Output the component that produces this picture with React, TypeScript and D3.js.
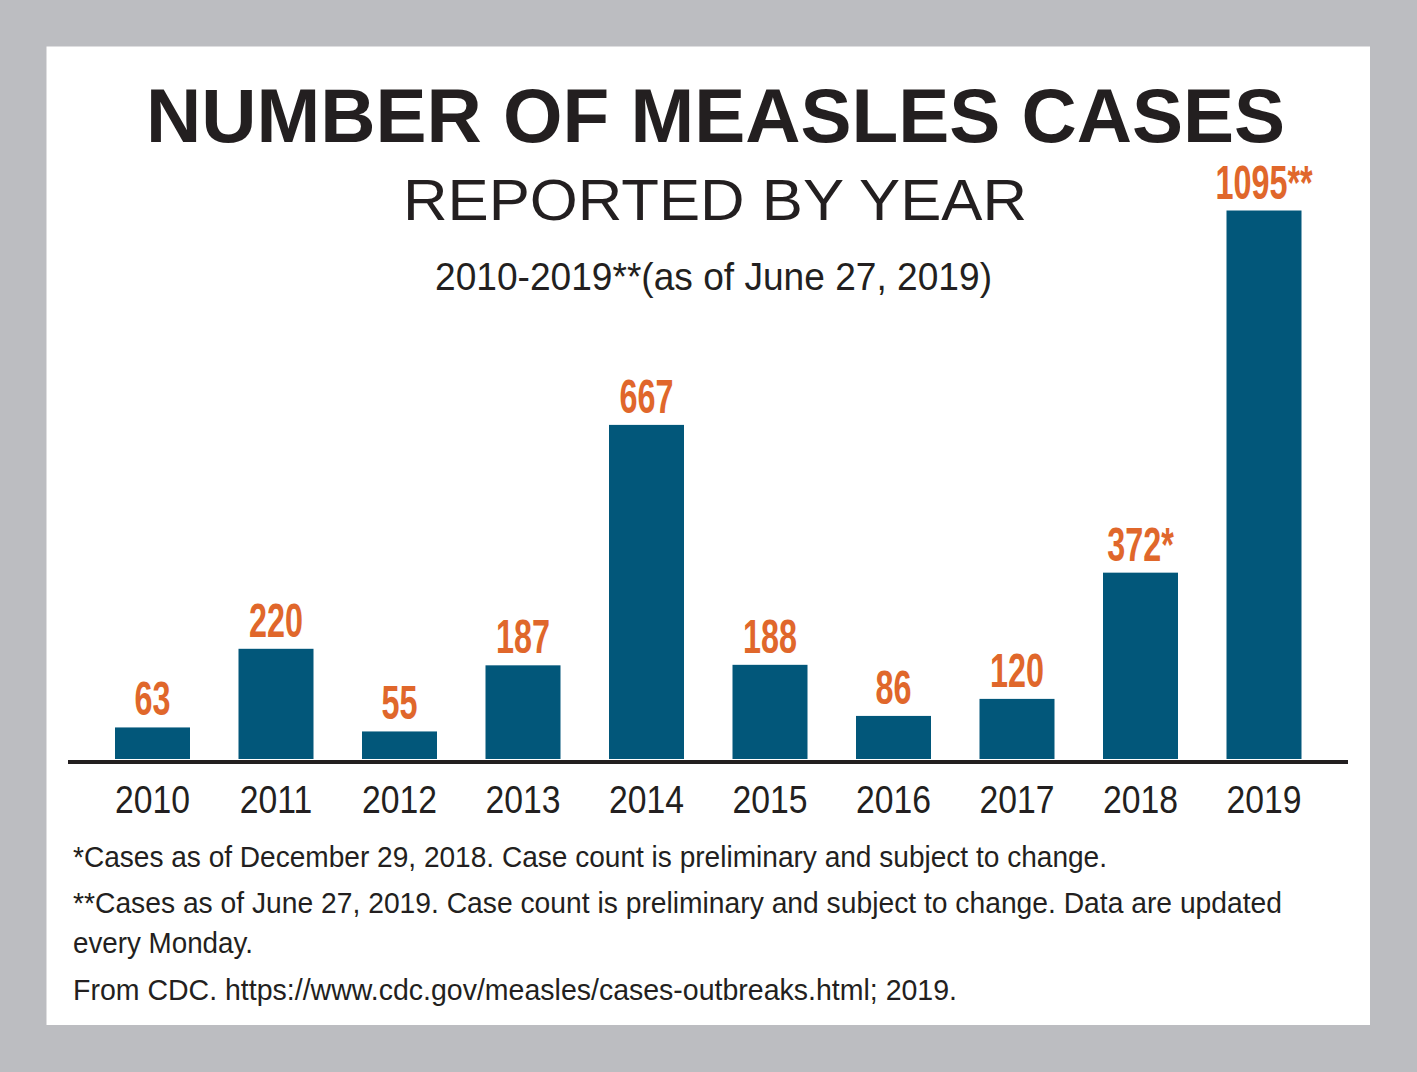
import React from "react";
import * as d3 from "d3";

const years = ["2010", "2011", "2012", "2013", "2014", "2015", "2016", "2017", "2018", "2019"];
const cases = [63, 220, 55, 187, 667, 188, 86, 120, 372, 1095];
const labelSuffix = ["", "", "", "", "", "", "", "", "*", "**"];

const titleText = "NUMBER OF MEASLES CASES";
const subtitleText = "REPORTED BY YEAR";
const rangeText = "2010-2019**(as of June 27, 2019)";
const footnotes = [
  "*Cases as of December 29, 2018. Case count is preliminary and subject to change.",
  "**Cases as of June 27, 2019. Case count is preliminary and subject to change. Data are updated",
  "every Monday.",
  "From CDC. https://www.cdc.gov/measles/cases-outbreaks.html; 2019.",
];

const W = 1417;
const H = 1072;
const BAR = "#02577a";
const ORANGE = "#e0672b";
const INK = "#231f20";
const GRAY = "#bcbdc1";
const SANS = "'Liberation Sans', Arial, Helvetica, sans-serif";

export default function App() {
  const x = d3
    .scaleBand<string>()
    .domain(years)
    .range([115, 1301.5])
    .paddingInner(0.3927)
    .paddingOuter(0);
  const y = d3.scaleLinear().domain([0, 1100]).range([759, 208]);

  const footY = [867, 913, 953, 1000];
  const footW = [1034, 1209, 180, 884];

  return (
    <svg
      width={W}
      height={H}
      style={{ position: "absolute", left: 0, top: 0, display: "block" }}
      fontFamily={SANS}
    >
      <rect x={0} y={0} width={W} height={H} fill={GRAY} />
      <rect x={46.5} y={46.5} width={1323.5} height={978.5} fill="#ffffff" />

      <text
        x={146}
        y={142}
        fontSize={76}
        fontWeight="bold"
        fill={INK}
        textLength={1139}
        lengthAdjust="spacingAndGlyphs"
      >
        {titleText}
      </text>
      <text
        x={403}
        y={220}
        fontSize={58}
        fill={INK}
        textLength={624}
        lengthAdjust="spacingAndGlyphs"
      >
        {subtitleText}
      </text>
      <text
        x={435}
        y={290}
        fontSize={39}
        fill={INK}
        textLength={557}
        lengthAdjust="spacingAndGlyphs"
      >
        {rangeText}
      </text>

      {years.map((yr, i) => {
        const bx = x(yr) as number;
        const bw = x.bandwidth();
        const top = y(cases[i]);
        const cx = bx + bw / 2;
        return (
          <g key={yr}>
            <rect x={bx} y={top} width={bw} height={y(0) - top} fill={BAR} />
            <text
              transform={`translate(${cx},${top - 12}) scale(0.66,1)`}
              textAnchor="middle"
              fontSize={49}
              fontWeight="bold"
              fill={ORANGE}
            >
              {cases[i] + labelSuffix[i]}
            </text>
            <text
              transform={`translate(${cx},${813}) scale(0.865,1)`}
              textAnchor="middle"
              fontSize={39}
              fill={INK}
            >
              {yr}
            </text>
          </g>
        );
      })}

      <line x1={68} x2={1348} y1={762} y2={762} stroke={INK} strokeWidth={4} />

      {footnotes.map((t, i) => (
        <text
          key={i}
          x={73}
          y={footY[i]}
          fontSize={30}
          fill={INK}
          textLength={footW[i]}
          lengthAdjust="spacingAndGlyphs"
        >
          {t}
        </text>
      ))}
    </svg>
  );
}
